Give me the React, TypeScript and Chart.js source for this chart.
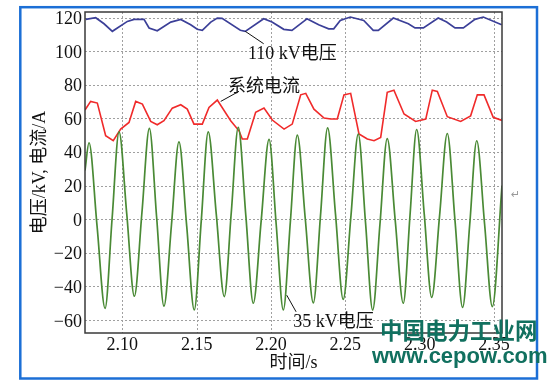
import React, { useEffect, useRef } from "react";
import { Chart, registerables } from "chart.js";
Chart.register(...registerables);

const xTicks = [2.1, 2.15, 2.2, 2.25, 2.3, 2.35];
const yTicks = [-60, -40, -20, 0, 20, 40, 60, 80, 100, 120];

const v110Time = [2.0754, 2.0821, 2.0877, 2.0933, 2.1034, 2.1079, 2.1146, 2.118, 2.1235, 2.1326, 2.1393, 2.146, 2.1504, 2.1538, 2.1595, 2.1639, 2.1671, 2.1794, 2.1827, 2.1951, 2.2007, 2.2086, 2.2141, 2.222, 2.2242, 2.2321, 2.2388, 2.2422, 2.2466, 2.2534, 2.2624, 2.2688, 2.2722, 2.2823, 2.2924, 2.2969, 2.3025, 2.3125, 2.3182, 2.3238, 2.3294, 2.3372, 2.3428, 2.3552];
const v110Values = [118.9, 119.9, 116.3, 111.8, 117.7, 118.9, 118.9, 113.8, 112.1, 117.3, 118.9, 115.7, 113, 112.4, 117.3, 119.7, 119.5, 112.4, 111.8, 119.3, 117.3, 113, 112.4, 117.7, 119.3, 115.7, 113.3, 113.3, 118.3, 120.3, 118.3, 112.4, 112.4, 119.7, 116.3, 113.8, 113.8, 119.7, 117.3, 113.8, 113.8, 118.9, 120.3, 115.7];

const currentTime = [2.0749, 2.0787, 2.0832, 2.0888, 2.0939, 2.0989, 2.1045, 2.109, 2.1135, 2.1191, 2.1235, 2.128, 2.1336, 2.1393, 2.1437, 2.1482, 2.1538, 2.1583, 2.1639, 2.1729, 2.1785, 2.1807, 2.1841, 2.1897, 2.1953, 2.2009, 2.2088, 2.2143, 2.22, 2.2234, 2.2289, 2.2357, 2.2402, 2.2446, 2.2491, 2.2536, 2.2592, 2.2648, 2.2693, 2.2738, 2.2782, 2.2827, 2.2895, 2.2973, 2.3041, 2.3085, 2.3119, 2.3186, 2.3276, 2.3343, 2.3388, 2.3433, 2.3495, 2.3554];
const currentValues = [65, 70.1, 69.1, 49.7, 46.7, 53.6, 57.6, 70.1, 68.5, 58.2, 56.2, 58.6, 66.1, 68.1, 65.5, 56.6, 56.6, 66.5, 70.9, 58.6, 52.6, 47.7, 47.7, 63.6, 66.1, 59, 53.6, 56.6, 74, 74.9, 65.5, 60.2, 59.6, 59.6, 74, 74.9, 50.7, 47.7, 46.7, 48.7, 75.5, 76.8, 62.6, 58.2, 59.6, 76.8, 76, 61, 58.2, 61.5, 74, 74, 60.6, 58.8];

const v35Time = [2.0749, 2.0776, 2.083, 2.0884, 2.0931, 2.0978, 2.103, 2.1081, 2.1132, 2.1182, 2.1231, 2.128, 2.1331, 2.1381, 2.1433, 2.1484, 2.1531, 2.1578, 2.1632, 2.1686, 2.1733, 2.178, 2.1831, 2.1881, 2.1934, 2.1987, 2.2035, 2.2083, 2.213, 2.2177, 2.2231, 2.2285, 2.2333, 2.2381, 2.2434, 2.2486, 2.2537, 2.2587, 2.2636, 2.2684, 2.2733, 2.2782, 2.2836, 2.289, 2.2935, 2.298, 2.3031, 2.3081, 2.3134, 2.3186, 2.3238, 2.3289, 2.3337, 2.3384, 2.3437, 2.3489, 2.3554];
const v35Values = [29, 45.5, -4, -53, 0, 52, 3, -45.8, 4, 54, 1, -51.7, -3, 46, -4, -54, -1, 52, 3, -46, 4, 54.6, 2, -50, -1, 47.5, -3, -54, -2, 50, 0, -49.8, 2, 54.4, 3, -47.7, 1, 50.6, -2, -54, -3, 48, -1, -50, 2, 53.4, 3, -46.5, 2, 51, -1, -52.5, -3, 46.7, -3, -52, 20];

const labels = [
  { text: "110 kV电压", t: 2.1845, v: 95.5, from: [2.1827, 111.8], to: [2.1951, 104.4] },
  { text: "系统电流", t: 2.1711, v: 75.6, from: [2.1662, 70.1], to: [2.1785, 76.1] },
  { text: "35 kV电压", t: 2.215, v: -64.1, from: [2.2106, -45.2], to: [2.2169, -55.1] },
];

const SERIF = '"Liberation Serif", "Noto Sans CJK SC", serif';

const toPts = (ts: number[], vs: number[]) => ts.map((t, i) => ({ x: t, y: vs[i] }));
const fmtY = (v: number) => (v < 0 ? "\u2212" + Math.abs(v) : String(v));

const decor = {
  id: "decor",
  beforeDatasetsDraw(chart: any) {
    const { ctx, chartArea: a, scales } = chart;
    const x = scales.x, y = scales.y;
    ctx.save();
    ctx.strokeStyle = "#a0a0a0";
    ctx.lineWidth = 1;
    ctx.setLineDash([2, 2]);
    xTicks.forEach((t) => {
      const px = Math.round(x.getPixelForValue(t)) + 0.5;
      ctx.beginPath(); ctx.moveTo(px, a.top); ctx.lineTo(px, a.bottom); ctx.stroke();
    });
    yTicks.forEach((v) => {
      const py = Math.round(y.getPixelForValue(v)) + 0.5;
      ctx.beginPath(); ctx.moveTo(a.left, py); ctx.lineTo(a.right, py); ctx.stroke();
    });
    ctx.restore();
  },
  afterDatasetsDraw(chart: any) {
    const { ctx, chartArea: a, scales } = chart;
    const x = scales.x, y = scales.y;
    ctx.save();
    ctx.setLineDash([]);
    ctx.strokeStyle = "#3a3a3a";
    ctx.lineWidth = 1.5;
    ctx.strokeRect(a.left, a.top, a.right - a.left, a.bottom - a.top);
    ctx.fillStyle = "#111";
    ctx.strokeStyle = "#111";
    ctx.lineWidth = 1;
    ctx.font = `18px ${SERIF}`;
    ctx.textBaseline = "alphabetic";
    // tick labels
    ctx.textAlign = "center";
    xTicks.forEach((t) => ctx.fillText(t.toFixed(2), x.getPixelForValue(t), a.bottom + 16.5));
    ctx.textAlign = "right";
    yTicks.forEach((v) => ctx.fillText(fmtY(v), a.left - 3, y.getPixelForValue(v) + 6.5));
    // annotations
    ctx.textAlign = "left";
    labels.forEach((l) => {
      ctx.beginPath();
      ctx.moveTo(x.getPixelForValue(l.from[0]), y.getPixelForValue(l.from[1]));
      ctx.lineTo(x.getPixelForValue(l.to[0]), y.getPixelForValue(l.to[1]));
      ctx.stroke();
      ctx.fillText(l.text, x.getPixelForValue(l.t), y.getPixelForValue(l.v));
    });
    // axis titles
    ctx.textAlign = "center";
    ctx.fillText("时间/s", (a.left + a.right) / 2, a.bottom + 35);
    ctx.save();
    ctx.translate(40, (a.top + a.bottom) / 2);
    ctx.rotate(-Math.PI / 2);
    ctx.textBaseline = "middle";
    ctx.fillText("电压/kV, 电流/A", 0, 0);
    ctx.restore();
    ctx.restore();
  },
  afterDraw(chart: any) {
    const { ctx } = chart;
    ctx.save();
    ctx.strokeStyle = "#1c6fd6";
    ctx.lineWidth = 2.5;
    ctx.strokeRect(20.3, 7.2, 516.7, 371.3);
    ctx.fillStyle = "#9a9a9a";
    ctx.font = `11px "DejaVu Sans", sans-serif`;
    ctx.textAlign = "left";
    ctx.textBaseline = "alphabetic";
    ctx.fillText("↵", 511, 198);
    ctx.fillStyle = "#11705f";
    ctx.font = `bold 22.5px "Noto Sans CJK SC", sans-serif`;
    ctx.fillText("中国电力工业网", 380, 339);
    ctx.font = `bold 22px "Liberation Sans", Arial, sans-serif`;
    ctx.fillText("www.cepow.com", 372, 363);
    ctx.restore();
  },
};

export default function App() {
  const ref = useRef<HTMLCanvasElement | null>(null);
  useEffect(() => {
    if (!ref.current) return;
    const chart = new Chart(ref.current, {
      type: "line",
      data: {
        datasets: [
          {
            label: "35 kV电压",
            data: toPts(v35Time, v35Values),
            borderColor: "#4a8a35",
            borderWidth: 1.7,
            pointRadius: 0,
            cubicInterpolationMode: "monotone",
          },
          {
            label: "系统电流",
            data: toPts(currentTime, currentValues),
            borderColor: "#f02a2a",
            borderWidth: 1.6,
            pointRadius: 0,
            tension: 0,
          },
          {
            label: "110 kV电压",
            data: toPts(v110Time, v110Values),
            borderColor: "#3b3f98",
            borderWidth: 1.7,
            pointRadius: 0,
            tension: 0,
          },
        ],
      } as any,
      options: {
        responsive: false,
        animation: false,
        layout: { padding: { left: 0, right: 56, top: 12, bottom: 0 } },
        plugins: { legend: { display: false }, tooltip: { enabled: false } },
        scales: {
          x: {
            type: "linear",
            min: 2.0749,
            max: 2.3554,
            grid: { display: false },
            border: { display: false },
            afterBuildTicks: (s: any) => { s.ticks = xTicks.map((v) => ({ value: v })); },
            afterFit: (s: any) => { s.height = 53; },
            ticks: { display: false },
          },
          y: {
            type: "linear",
            min: -67.7,
            max: 123.3,
            grid: { display: false },
            border: { display: false },
            afterBuildTicks: (s: any) => { s.ticks = yTicks.map((v) => ({ value: v })); },
            afterFit: (s: any) => { s.width = 85; },
            ticks: { display: false },
          },
        },
      } as any,
      plugins: [decor],
    });
    return () => chart.destroy();
  }, []);
  return (
    <div style={{ position: "fixed", left: 0, top: 0, width: 558, height: 386, background: "#fff" }}>
      <canvas ref={ref} width={558} height={386} style={{ display: "block" }} />
    </div>
  );
}
